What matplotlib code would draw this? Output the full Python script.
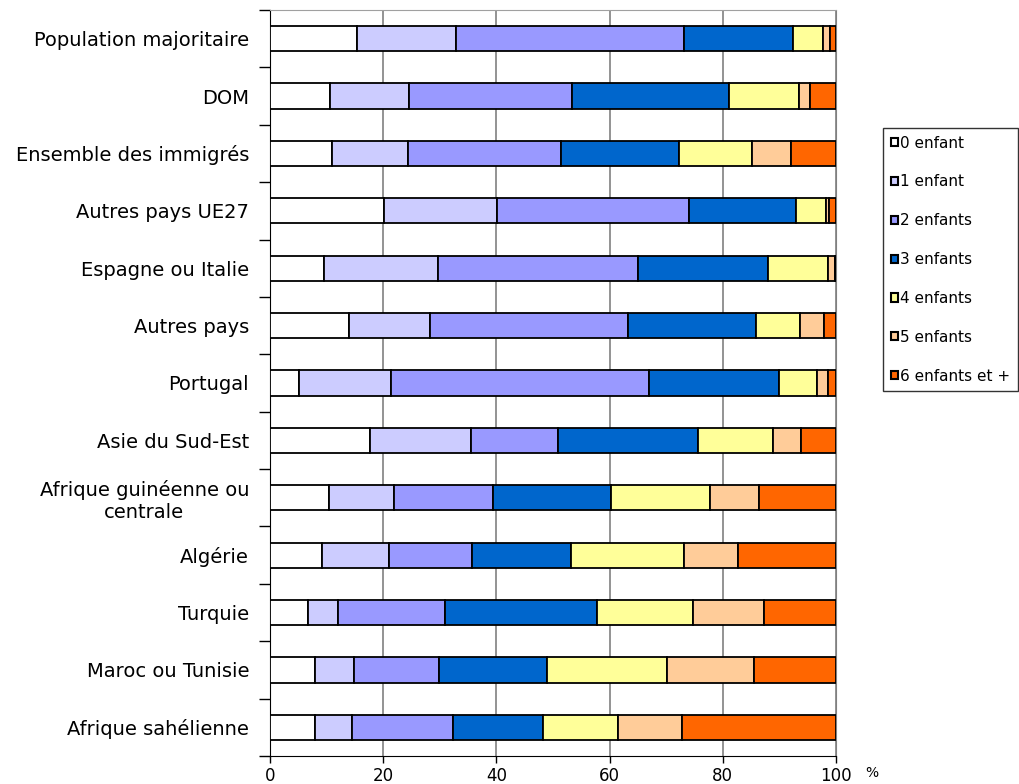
import matplotlib
matplotlib.use("Agg")
import matplotlib.pyplot as plt
import numpy as np

plt.rcParams['font.family'] = ['DejaVu Sans']

categories = ["Population majoritaire", "DOM", "Ensemble des immigrés",
              "Autres pays UE27", "Espagne ou Italie", "Autres pays", "Portugal",
              "Asie du Sud-Est", "Afrique guinéenne ou\ncentrale", "Algérie",
              "Turquie", "Maroc ou Tunisie", "Afrique sahélienne"]
series_names = ["0 enfant", "1 enfant", "2 enfants", "3 enfants",
                "4 enfants", "5 enfants", "6 enfants et +"]
colors = ["#FFFFFF", "#CCCCFF", "#9999FF", "#0066CC", "#FFFF99", "#FFCC99", "#FF6600"]

enf0 = [15.4, 10.6, 11.0, 20.1, 9.5, 14.0, 5.1, 17.7, 10.5, 9.2, 6.8, 8.0, 8.0]
enf1 = [17.4, 14.0, 13.3, 20.0, 20.1, 14.2, 16.3, 17.8, 11.4, 11.8, 5.3, 6.8, 6.4]
enf2 = [40.4, 28.7, 27.1, 33.9, 35.4, 35.1, 45.5, 15.3, 17.5, 14.7, 18.9, 15.0, 18.0]
enf3 = [19.2, 27.8, 20.9, 19.0, 22.9, 22.5, 23.0, 24.9, 20.8, 17.5, 26.7, 19.2, 15.8]
enf4 = [5.3, 12.4, 12.8, 5.3, 10.6, 7.9, 6.7, 13.1, 17.6, 20.0, 17.1, 21.2, 13.2]
enf5 = [1.2, 1.9, 6.9, 0.5, 1.3, 4.2, 1.9, 5.1, 8.6, 9.5, 12.4, 15.4, 11.4]
enf6 = [1.1, 4.6, 8.0, 1.2, 0.2, 2.1, 1.5, 6.1, 13.6, 17.3, 12.8, 14.4, 27.2]
xticks = [0, 20, 40, 60, 80, 100]

series = [enf0, enf1, enf2, enf3, enf4, enf5, enf6]

fig = plt.figure(figsize=(10.19, 7.84), dpi=100)
ax = fig.add_axes([270/1019, 1-756/784, (836-270)/1019, (756-10)/784])

y = np.arange(len(categories))
left = np.zeros(len(categories))
handles = []
for vals, c, name in zip(series, colors, series_names):
    b = ax.barh(y, vals, left=left, height=0.44, color=c, edgecolor="black",
                linewidth=1.3, label=name, zorder=3)
    handles.append(b)
    left += np.array(vals)

ax.set_xlim(0, 100)
ax.set_ylim(len(categories) - 0.5, -0.5)
ax.set_xticks(xticks)
ax.set_xticklabels([str(t) for t in xticks], fontsize=12)
ax.xaxis.grid(True, color="#808080", linewidth=1.2, zorder=0)
ax.set_axisbelow(True)

ax.set_yticks(y)
ax.set_yticklabels(categories, fontsize=14, multialignment="center")
ax.tick_params(axis="y", which="major", length=0, pad=15)
ax.set_yticks(np.arange(len(categories) + 1) - 0.5, minor=True)
ax.tick_params(axis="y", which="minor", length=8, width=1, color="black", direction="out")
ax.tick_params(axis="x", length=5, width=1, color="black", direction="out", pad=3)

ax.spines["left"].set_color("black")
ax.spines["bottom"].set_color("black")
ax.spines["top"].set_color("#A0A0A0")
ax.spines["right"].set_color("#808080")

fig.text(865/1019, 1-777/784, "%", fontsize=10, va="baseline", ha="left")

leg = fig.legend(handles=handles, labels=series_names, loc="upper left",
                 bbox_to_anchor=(883/1019, 1-128/784), frameon=True, fancybox=False,
                 fontsize=11, handlelength=0.45, handleheight=0.45, handletextpad=0.15,
                 labelspacing=1.56, borderpad=0.5, borderaxespad=0)
leg.get_frame().set_edgecolor("black")
leg.get_frame().set_linewidth(1.0)
for h in leg.legend_handles:
    h.set_linewidth(1.5)

fig.savefig("out.png", dpi=100)
